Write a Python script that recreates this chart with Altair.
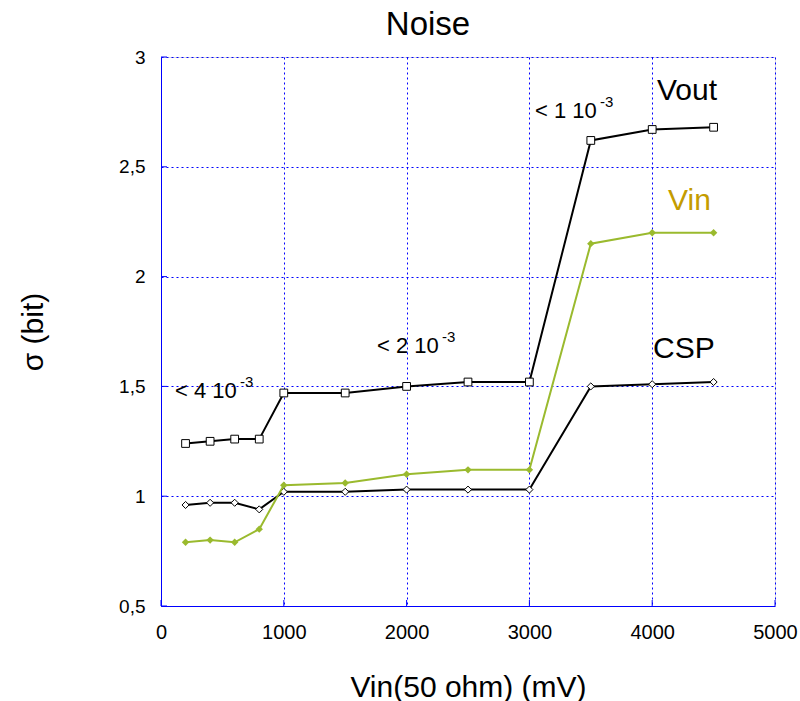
import altair as alt
import pandas as pd

x_vals = [200, 400, 600, 800, 1000, 1500, 2000, 2500, 3000, 3500, 4000, 4500]
vout = [1.24, 1.25, 1.26, 1.26, 1.47, 1.47, 1.50, 1.52, 1.52, 2.62, 2.67, 2.68]
vin = [0.79, 0.80, 0.79, 0.85, 1.05, 1.06, 1.10, 1.12, 1.12, 2.15, 2.20, 2.20]
csp = [0.96, 0.97, 0.97, 0.94, 1.02, 1.02, 1.03, 1.03, 1.03, 1.50, 1.51, 1.52]

x_ticks = [0, 1000, 2000, 3000, 4000, 5000]
y_ticks = [0.5, 1, 1.5, 2, 2.5, 3]

ann_text = ["< 4 10", "< 2 10", "< 1 10"]
ann_x = [114, 1759, 3046]
ann_y = [1.447, 1.652, 2.722]
ann_sup = ["-3", "-3", "-3"]

lab_text = ["Vout", "Vin", "CSP"]
lab_x = [4039, 4129, 4007]
lab_y = [2.804, 2.303, 1.629]
lab_color = ["#000000", "#c49c00", "#000000"]

FONT = "Liberation Sans"
BLUE = "#0000ff"
GREEN = "#9aba2e"

df = pd.DataFrame({"x": x_vals, "vout": vout, "vin": vin, "csp": csp})
ann = pd.DataFrame({"x": ann_x, "y": ann_y, "t": ann_text, "s": ann_sup})
lab = pd.DataFrame({"x": lab_x, "y": lab_y, "t": lab_text, "c": lab_color})
xt = pd.DataFrame({"x": x_ticks})
yt = pd.DataFrame({"y": y_ticks})

xs = alt.Scale(domain=[0, 5000], nice=False)
ys = alt.Scale(domain=[0.5, 3], nice=False, zero=False)

xax = alt.Axis(values=x_ticks, labelExpr="toString(datum.value)", grid=True,
               gridColor=BLUE, gridDash=[2, 3], gridWidth=1, domainColor=BLUE,
               ticks=False, labelFont=FONT, labelFontSize=20, labelPadding=16,
               labelFlush=False, labelOverlap=False,
               title="Vin(50 ohm) (mV)", titleFont=FONT, titleFontSize=30,
               titleFontWeight="normal", titlePadding=30, labelColor="black")
yax = alt.Axis(values=y_ticks, labelExpr="replace(toString(datum.value), '.', ',')",
               grid=True, gridColor=BLUE, gridDash=[2, 3], gridWidth=1, domainColor=BLUE,
               ticks=False, labelFont=FONT, labelFontSize=19, labelPadding=16,
               labelFlush=False, labelOverlap=False,
               title="σ (bit)", titleFont=FONT, titleFontSize=30, titleFontWeight="normal",
               titlePadding=70, labelColor="black")

base = alt.Chart(df)
frame = base.mark_line(opacity=0).encode(
    x=alt.X("x:Q", scale=xs, axis=xax),
    y=alt.Y("vout:Q", scale=ys, axis=yax),
)

def series(col, color, shape, filled, size):
    line = base.mark_line(color=color, strokeWidth=2).encode(
        x=alt.X("x:Q", scale=xs), y=alt.Y(f"{col}:Q", scale=ys))
    pts = base.mark_point(shape=shape, filled=filled, color=color, size=size,
                          strokeWidth=1, opacity=1,
                          fill=color if filled else "white").encode(
        x=alt.X("x:Q", scale=xs), y=alt.Y(f"{col}:Q", scale=ys))
    return line + pts

s_vout = series("vout", "black", "square", False, 60)
s_vin = series("vin", GREEN, "diamond", True, 55)
s_csp = series("csp", "black", "diamond", False, 50)

xtick = alt.Chart(xt).mark_rule(color=BLUE).encode(
    x=alt.X("x:Q", scale=xs), y=alt.value(549), y2=alt.value(543))
ytick = alt.Chart(yt).mark_rule(color=BLUE).encode(
    y=alt.Y("y:Q", scale=ys), x=alt.value(0), x2=alt.value(6))

ann_main = alt.Chart(ann).mark_text(align="left", baseline="alphabetic", font=FONT,
                                    fontSize=22, color="black").encode(
    x=alt.X("x:Q", scale=xs), y=alt.Y("y:Q", scale=ys), text="t:N")
ann_s = alt.Chart(ann).mark_text(align="left", baseline="alphabetic", font=FONT,
                                 fontSize=15, color="black", dx=65, dy=-11).encode(
    x=alt.X("x:Q", scale=xs), y=alt.Y("y:Q", scale=ys), text="s:N")

labels = alt.Chart(lab).mark_text(align="left", baseline="alphabetic", font=FONT,
                                  fontSize=30).encode(
    x=alt.X("x:Q", scale=xs), y=alt.Y("y:Q", scale=ys), text="t:N",
    color=alt.Color("c:N", scale=None))

chart = alt.layer(frame, xtick, ytick, s_csp, s_vin, s_vout, ann_main, ann_s, labels).properties(
    width=614, height=549,
    title=alt.TitleParams("Noise", font=FONT, fontSize=33, fontWeight="normal",
                          color="black", offset=6, dx=-40),
    autosize=alt.AutoSizeParams(type="none"),
    padding={"left": 161, "top": 57, "right": 25, "bottom": 95},
).configure_view(stroke=BLUE, strokeWidth=1.5).configure(background="white")

chart.save("out.html", embed_options={"renderer": "svg", "actions": False})
